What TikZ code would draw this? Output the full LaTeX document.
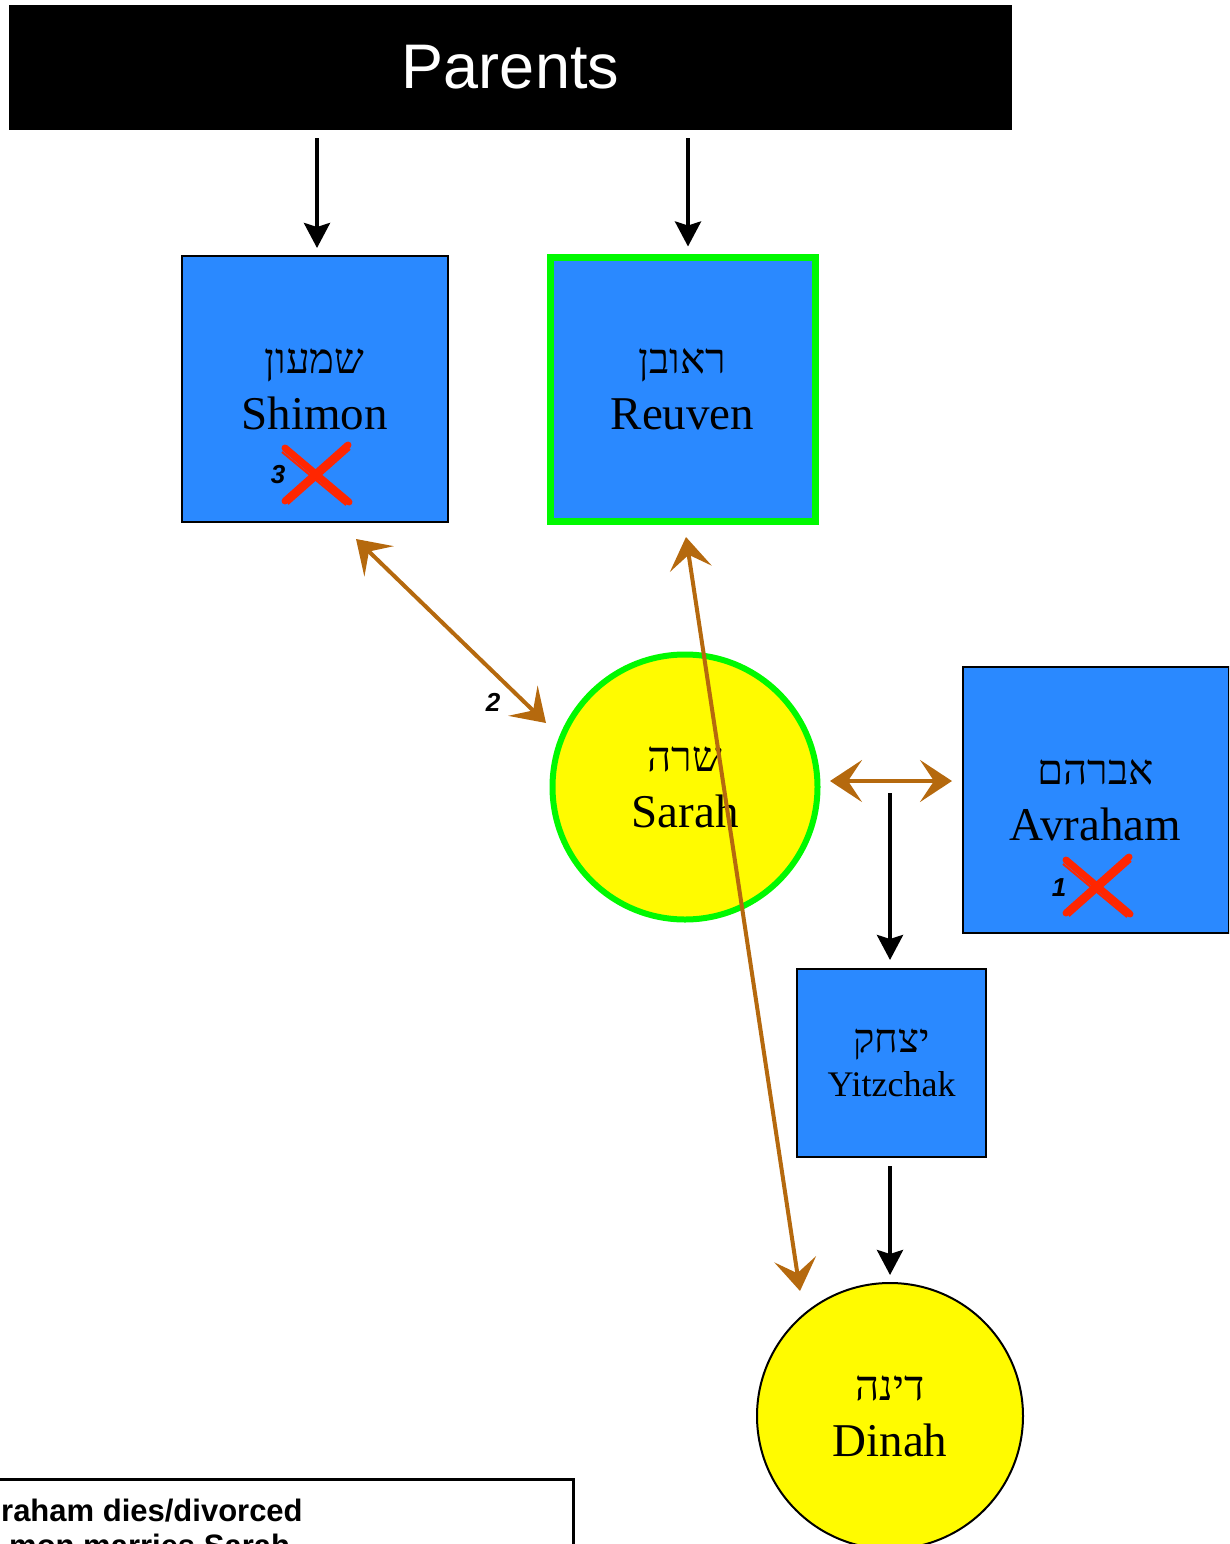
\documentclass[tikz,border=0pt]{standalone}
\usepackage{fontspec}
\setmainfont{Liberation Serif}
\setsansfont{Liberation Sans}
\newfontfamily\hebfont[Script=Hebrew]{Liberation Serif}
\TeXXeTstate=1
\usetikzlibrary{arrows.meta,calc}
\definecolor{boxblue}{HTML}{2A89FF}
\definecolor{lemon}{HTML}{FFFB00}
\definecolor{spring}{HTML}{00F900}
\definecolor{marasch}{HTML}{FF2600}
\definecolor{brownarr}{HTML}{B5690E}
\newcommand{\heb}[1]{{\hebfont\fontsize{42}{56}\selectfont\beginR #1\endR}}
\newcommand{\hebs}[1]{{\hebfont\fontsize{40}{44}\selectfont\beginR #1\endR}}
\tikzset{
  person/.style={rectangle, draw=black, line width=2pt, fill=boxblue, minimum width=266pt, minimum height=266pt, inner sep=0pt, align=center, font=\fontsize{47}{56}\selectfont},
  woman/.style={circle, draw=black, line width=2pt, fill=lemon, minimum size=266pt, inner sep=0pt, align=center, font=\fontsize{47}{56}\selectfont},
  blkarrow/.style={line width=4pt, -{Stealth[length=25pt,width=26pt,inset=4pt]}},
  brarrow/.style={draw=brownarr, line width=4pt, {Stealth[length=32pt,width=42pt,inset=14pt]}-{Stealth[length=32pt,width=42pt,inset=14pt]}},
  crossline/.style={draw=marasch, line width=7pt, line cap=round},
  numlabel/.style={font=\sffamily\bfseries\itshape\fontsize{26}{28}\selectfont, inner sep=0pt}
}
\begin{document}
\begin{tikzpicture}[x=1pt,y=-1pt]
\useasboundingbox (0,0) rectangle (1229,1544);
\clip (0,0) rectangle (1229,1544);

% Parents bar
\node[rectangle, fill=black, minimum width=1003pt, minimum height=125pt, inner sep=0pt, text=white, font=\sffamily\fontsize{63}{70}\selectfont] (parents) at (510.5,67.5) {Parents};

% People
\node[person] (shimon) at (314.5,389) {\heb{שמעון}\\Shimon};
\node[person, draw=spring, line width=7pt, minimum width=265pt, minimum height=264pt] (reuven) at (682.5,389) {\heb{ראובן}\\Reuven};
\node[woman, draw=spring, line width=6pt, minimum size=265pt] (sarah) at (685,787) {\heb{שרה}\\Sarah};
\node[person] (avraham) at (1095.5,800) {\heb{אברהם}\\Avraham};
\node[person, minimum width=189pt, minimum height=188pt, font=\fontsize{36}{44}\selectfont] (yitzchak) at (891.5,1063) {\hebs{יצחק}\\Yitzchak};
\node[woman] (dinah) at (890,1416) {\heb{דינה}\\Dinah};

% Crosses
\coordinate (xs) at (316,474);
\draw[crossline] ($(xs)+(-31,-26)$) -- ($(xs)+(33,28)$);
\draw[crossline] ($(xs)+(32,-29)$) -- ($(xs)+(-31,27)$);
\draw[draw=marasch, line width=2pt] ($(xs)+(-34,-22)$) -- ($(xs)+(30,31)$);
\draw[draw=marasch, line width=2pt] ($(xs)+(34,-25)$) -- ($(xs)+(-28,30)$);
\node[numlabel] (n3) at (278,475) {3};

\coordinate (xa) at (1097,886);
\draw[crossline] ($(xa)+(-31,-26)$) -- ($(xa)+(33,28)$);
\draw[crossline] ($(xa)+(32,-29)$) -- ($(xa)+(-31,27)$);
\draw[draw=marasch, line width=2pt] ($(xa)+(-34,-22)$) -- ($(xa)+(30,31)$);
\draw[draw=marasch, line width=2pt] ($(xa)+(34,-25)$) -- ($(xa)+(-28,30)$);
\node[numlabel] (n1) at (1059,888) {1};

% Black arrows
\draw[blkarrow] ($(parents.south -| shimon.north)+(2.5,8)$) -- ($(shimon.north)+(2.5,-7)$);
\draw[blkarrow] ($(parents.south -| reuven.north)+(5.5,8)$) -- ($(reuven.north)+(5.5,-7)$);
\coordinate (marriage) at (890,793);
\draw[blkarrow] (marriage) -- ($(yitzchak.north -| marriage)+(0,-8)$);
\draw[blkarrow] ($(yitzchak.south -| dinah.north)+(0,8)$) -- ($(dinah.north)+(0,-7)$);

% Brown relationship arrows
\coordinate (sh1) at (356,539);
\coordinate (sa1) at (546,723);
\draw[brarrow] (sh1) -- (sa1);
\node[numlabel] (n2) at (493,702) {2};
\coordinate (re1) at (686,537);
\coordinate (di1) at (800,1291);
\draw[brarrow] (re1) -- (di1);
\coordinate (sa2) at (830,781);
\coordinate (av2) at (952,781);
\draw[brarrow] (sa2) -- (av2);

% Notes box (cut off)
\draw[line width=3pt] (-10,1479) -- (573,1479) -- (573,1560);
\node[anchor=base west, inner sep=0pt, font=\sffamily\bfseries\fontsize{31}{35}\selectfont] (note1) at (1,1521) {raham dies/divorced};
\node[anchor=base west, inner sep=0pt, font=\sffamily\bfseries\fontsize{31}{35}\selectfont] (note2) at (9,1556) {mon marries Sarah};
\end{tikzpicture}
\end{document}
